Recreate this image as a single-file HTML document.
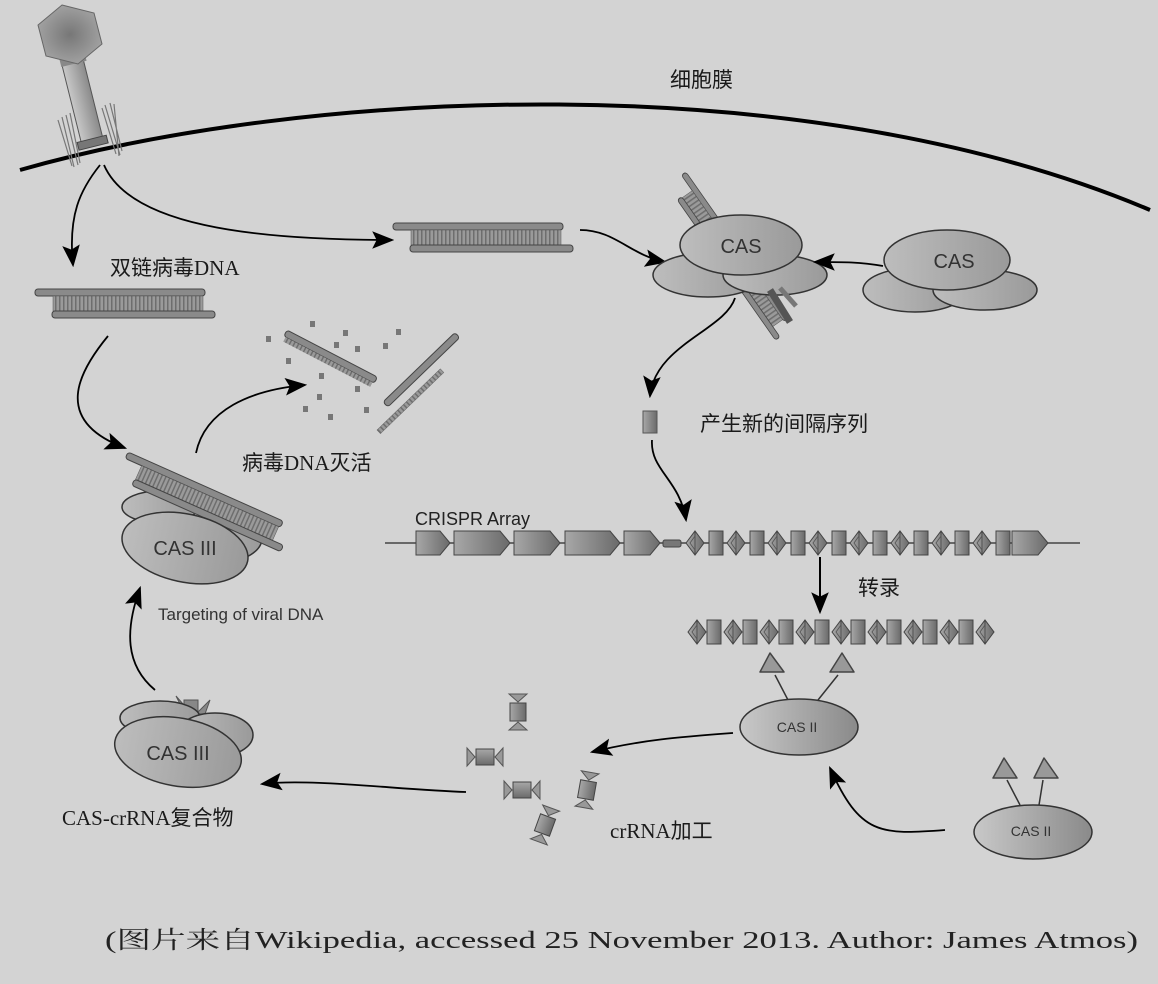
<!DOCTYPE html>
<html><head><meta charset="utf-8"><style>
html,body{margin:0;padding:0;background:#d3d3d3;}
svg{display:block;}
text{font-family:"Liberation Sans","Noto Sans CJK SC",sans-serif;fill:#222;}
.cn{font-family:"Liberation Serif","Noto Sans CJK SC",serif;font-size:21px;fill:#1a1a1a;}
.cas{font-size:20px;fill:#333;}
</style></head><body>
<svg width="1158" height="984" viewBox="0 0 1158 984" xmlns="http://www.w3.org/2000/svg">
<defs>
<linearGradient id="g1" x1="0" x2="1" y1="0" y2="0"><stop offset="0" stop-color="#c8c8c8"/><stop offset="1" stop-color="#8a8a8a"/></linearGradient>
<linearGradient id="g2" x1="0" x2="1" y1="0" y2="0"><stop offset="0" stop-color="#a8a8a8"/><stop offset="1" stop-color="#6a6a6a"/></linearGradient>
<linearGradient id="g3" x1="0" x2="1"><stop offset="0" stop-color="#bdbdbd"/><stop offset="1" stop-color="#9a9a9a"/></linearGradient>
<radialGradient id="rh"><stop offset="0" stop-color="#777"/><stop offset="1" stop-color="#a0a0a0"/></radialGradient>
<marker id="ab" viewBox="0 0 10 10" refX="9" refY="5" markerWidth="22" markerHeight="22" orient="auto" markerUnits="userSpaceOnUse"><path d="M0,1 L10,5 L0,9 L2,5 Z" fill="#000"/></marker>
<pattern id="rung" width="4" height="14" patternUnits="userSpaceOnUse"><rect width="4" height="14" fill="#9a9a9a"/><rect x="0" width="1.5" height="14" fill="#6e6e6e"/></pattern>
<g id="dna">
<rect x="0" y="0" width="170" height="7" rx="3" fill="#8a8a8a" stroke="#444" stroke-width="1"/>
<rect x="18" y="7" width="150" height="15" fill="url(#rung)" stroke="#555" stroke-width="0.5"/>
<rect x="17" y="22" width="163" height="7" rx="3" fill="#8a8a8a" stroke="#444" stroke-width="1"/>
</g>
<g id="rep"><polygon points="0,12 9,0 18,12 9,24" fill="url(#g2)" stroke="#444" stroke-width="1"/><line x1="9" y1="0" x2="9" y2="24" stroke="#444" stroke-width="1"/><polygon points="4,12 9,5 9,19" fill="none" stroke="#555" stroke-width="0.8"/></g>
<g id="sp"><rect x="0" y="0" width="14" height="24" fill="url(#g2)" stroke="#444" stroke-width="1"/></g>
<g id="piece"><polygon points="-9,-18 9,-18 0,-10" fill="#999" stroke="#555"/><rect x="-8" y="-9" width="16" height="18" fill="url(#g2)" stroke="#444"/><polygon points="-9,18 9,18 0,10" fill="#999" stroke="#555"/></g>
</defs>

<!-- membrane -->
<path d="M20,170 C 300,90 800,62 1150,210" fill="none" stroke="#000" stroke-width="4"/>
<text x="670" y="87" class="cn">细胞膜</text>

<!-- phage -->
<g>
<g stroke="#777" stroke-width="1.2" fill="none">
<path d="M62,117 l12,50 M66,115 l12,50 M70,113 l10,50 M58,120 l14,46"/>
<path d="M105,105 l15,50 M110,103 l12,48 M114,104 l5,52 M102,108 l14,46"/>
</g>
<g transform="rotate(-14 82 100)">
<rect x="71" y="60" width="22" height="84" fill="url(#g1)" stroke="#555"/>
<rect x="67" y="140" width="30" height="8" fill="#777" stroke="#444"/>
</g>
<rect x="60" y="56" width="26" height="8" fill="#888" transform="rotate(-14 73 60)"/>
<polygon points="62,5 94,13 102,44 78,64 46,56 38,25" fill="url(#rh)" stroke="#666"/>
</g>

<!-- arrows from entry -->
<path d="M100,165 C 80,190 68,215 73,265" fill="none" stroke="#000" stroke-width="1.8" marker-end="url(#ab)"/>
<path d="M104,165 C 130,225 250,240 392,240" fill="none" stroke="#000" stroke-width="1.8" marker-end="url(#ab)"/>

<!-- dsDNA -->
<use href="#dna" x="35" y="289"/>
<text x="110" y="275" class="cn">双链病毒DNA</text>
<use href="#dna" x="393" y="223"/>
<path d="M580,230 C 615,230 630,255 665,262" fill="none" stroke="#000" stroke-width="1.8" marker-end="url(#ab)"/>

<!-- CAS top with DNA -->
<use href="#dna" transform="translate(686,172) rotate(55) scale(1.05,0.8)"/>
<ellipse cx="708" cy="275" rx="55" ry="22" fill="url(#g3)" stroke="#333" stroke-width="1.5"/>
<ellipse cx="775" cy="275" rx="52" ry="20" fill="url(#g3)" stroke="#333" stroke-width="1.5"/>
<ellipse cx="741" cy="245" rx="61" ry="30" fill="url(#g3)" stroke="#333" stroke-width="1.5"/>
<text x="741" y="253" class="cas" text-anchor="middle">CAS</text>
<path d="M770,290 L790,322" stroke="#555" stroke-width="7"/>
<path d="M780,288 L796,306" stroke="#777" stroke-width="5"/>

<!-- CAS right -->
<ellipse cx="915" cy="290" rx="52" ry="22" fill="url(#g3)" stroke="#333" stroke-width="1.5"/>
<ellipse cx="985" cy="290" rx="52" ry="20" fill="url(#g3)" stroke="#333" stroke-width="1.5"/>
<ellipse cx="947" cy="260" rx="63" ry="30" fill="url(#g3)" stroke="#333" stroke-width="1.5"/>
<text x="954" y="268" class="cas" text-anchor="middle">CAS</text>
<path d="M883,266 C 860,262 845,262 815,262" fill="none" stroke="#000" stroke-width="1.8" marker-end="url(#ab)"/>

<!-- to spacer -->
<path d="M735,298 C 725,330 655,345 650,396" fill="none" stroke="#000" stroke-width="1.8" marker-end="url(#ab)"/>
<rect x="643" y="411" width="14" height="22" fill="url(#g2)" stroke="#555"/>
<text x="700" y="431" class="cn">产生新的间隔序列</text>
<path d="M652,440 C 650,470 680,480 686,520" fill="none" stroke="#000" stroke-width="1.8" marker-end="url(#ab)"/>

<!-- CRISPR array -->
<line x1="385" y1="543" x2="1080" y2="543" stroke="#444" stroke-width="1.5"/>
<text x="415" y="525" style="font-size:18px;fill:#222">CRISPR Array</text>
<g stroke="#444" stroke-width="1">
<polygon points="416,531 440,531 450,543 440,555 416,555" fill="url(#g2)"/>
<polygon points="454,531 500,531 510,543 500,555 454,555" fill="url(#g2)"/>
<polygon points="514,531 550,531 560,543 550,555 514,555" fill="url(#g2)"/>
<polygon points="565,531 610,531 620,543 610,555 565,555" fill="url(#g2)"/>
<polygon points="624,531 650,531 660,543 650,555 624,555" fill="url(#g2)"/>
<rect x="663" y="540" width="18" height="7" rx="2" fill="#777"/>
<polygon points="1012,531 1038,531 1048,543 1038,555 1012,555" fill="url(#g2)"/>
</g>
<g transform="translate(0,531)">
<use href="#rep" x="686"/><use href="#sp" x="709"/>
<use href="#rep" x="727"/><use href="#sp" x="750"/>
<use href="#rep" x="768"/><use href="#sp" x="791"/>
<use href="#rep" x="809"/><use href="#sp" x="832"/>
<use href="#rep" x="850"/><use href="#sp" x="873"/>
<use href="#rep" x="891"/><use href="#sp" x="914"/>
<use href="#rep" x="932"/><use href="#sp" x="955"/>
<use href="#rep" x="973"/><use href="#sp" x="996"/>
</g>
<line x1="820" y1="557" x2="820" y2="612" stroke="#000" stroke-width="2" marker-end="url(#ab)"/>
<text x="858" y="595" class="cn">转录</text>

<!-- transcript -->
<g transform="translate(0,620)">
<use href="#rep" x="688"/><use href="#sp" x="707"/>
<use href="#rep" x="724"/><use href="#sp" x="743"/>
<use href="#rep" x="760"/><use href="#sp" x="779"/>
<use href="#rep" x="796"/><use href="#sp" x="815"/>
<use href="#rep" x="832"/><use href="#sp" x="851"/>
<use href="#rep" x="868"/><use href="#sp" x="887"/>
<use href="#rep" x="904"/><use href="#sp" x="923"/>
<use href="#rep" x="940"/><use href="#sp" x="959"/>
<use href="#rep" x="976"/>
</g>

<!-- CAS II top -->
<line x1="788" y1="700" x2="775" y2="675" stroke="#333" stroke-width="1.5"/>
<line x1="818" y1="700" x2="838" y2="675" stroke="#333" stroke-width="1.5"/>
<polygon points="770,653 760,672 784,672" fill="#999" stroke="#444" stroke-linejoin="round" stroke-width="1.5"/>
<polygon points="842,653 830,672 854,672" fill="#999" stroke="#444" stroke-linejoin="round" stroke-width="1.5"/>
<ellipse cx="799" cy="727" rx="59" ry="28" fill="url(#g1)" stroke="#333" stroke-width="1.5"/>
<text x="797" y="732" class="cas" text-anchor="middle" style="font-size:14px">CAS II</text>

<!-- CAS II right -->
<line x1="1020" y1="805" x2="1007" y2="780" stroke="#333" stroke-width="1.5"/>
<line x1="1039" y1="805" x2="1043" y2="780" stroke="#333" stroke-width="1.5"/>
<polygon points="1004,758 993,778 1017,778" fill="#999" stroke="#444" stroke-linejoin="round" stroke-width="1.5"/>
<polygon points="1044,758 1034,778 1058,778" fill="#999" stroke="#444" stroke-linejoin="round" stroke-width="1.5"/>
<ellipse cx="1033" cy="832" rx="59" ry="27" fill="url(#g1)" stroke="#333" stroke-width="1.5"/>
<text x="1031" y="836" class="cas" text-anchor="middle" style="font-size:14px">CAS II</text>
<path d="M945,830 C 880,835 860,835 830,768" fill="none" stroke="#000" stroke-width="1.8" marker-end="url(#ab)"/>
<path d="M733,733 C 680,737 640,740 592,752" fill="none" stroke="#000" stroke-width="1.8" marker-end="url(#ab)"/>

<!-- crRNA pieces -->
<use href="#piece" transform="translate(518,712)"/>
<use href="#piece" transform="translate(485,757) rotate(90)"/>
<use href="#piece" transform="translate(522,790) rotate(90)"/>
<use href="#piece" transform="translate(587,790) rotate(10)"/>
<use href="#piece" transform="translate(545,825) rotate(20)"/>
<text x="610" y="838" class="cn">crRNA加工</text>
<path d="M466,792 C 400,790 310,778 262,784" fill="none" stroke="#000" stroke-width="1.8" marker-end="url(#ab)"/>

<!-- CAS III bottom -->
<polygon points="176,696 190,712 184,712" fill="#888" stroke="#555"/>
<polygon points="210,700 196,714 205,714" fill="#888" stroke="#555"/>
<rect x="184" y="700" width="14" height="14" fill="#888" stroke="#555"/>
<ellipse cx="160" cy="718" rx="40" ry="17" fill="url(#g3)" stroke="#333" stroke-width="1.5"/>
<ellipse cx="215" cy="735" rx="38" ry="22" fill="url(#g3)" stroke="#333" stroke-width="1.5"/>
<ellipse cx="178" cy="752" rx="64" ry="34" fill="url(#g3)" stroke="#333" stroke-width="1.5" transform="rotate(10 178 752)"/>
<text x="178" y="760" class="cas" text-anchor="middle">CAS III</text>
<text x="62" y="825" class="cn">CAS-crRNA复合物</text>
<path d="M155,690 C 125,665 125,630 140,588" fill="none" stroke="#000" stroke-width="1.8" marker-end="url(#ab)"/>
<text x="158" y="620" style="font-size:17px;fill:#333">Targeting of viral DNA</text>

<!-- CAS III upper -->
<ellipse cx="160" cy="507" rx="38" ry="16" fill="url(#g3)" stroke="#333" stroke-width="1.5"/>
<ellipse cx="222" cy="538" rx="40" ry="24" fill="url(#g3)" stroke="#333" stroke-width="1.5"/>
<use href="#dna" transform="translate(128,452) rotate(24)"/>
<ellipse cx="185" cy="548" rx="64" ry="34" fill="url(#g3)" stroke="#333" stroke-width="1.5" transform="rotate(12 185 548)"/>
<text x="185" y="555" class="cas" text-anchor="middle">CAS III</text>
<path d="M108,336 C 80,370 50,420 125,448" fill="none" stroke="#000" stroke-width="1.8" marker-end="url(#ab)"/>
<path d="M196,453 C 205,410 250,390 305,385" fill="none" stroke="#000" stroke-width="1.8" marker-end="url(#ab)"/>
<text x="242" y="470" class="cn">病毒DNA灭活</text>

<!-- fragments -->
<g>
<g transform="translate(287,330) rotate(27.5)">
<rect x="0" y="0" width="102" height="7" rx="3" fill="#8a8a8a" stroke="#444"/>
<rect x="2" y="7" width="98" height="5" fill="url(#rung)"/>
</g>
<rect x="0" y="0" width="100" height="7" rx="3" fill="#8a8a8a" stroke="#444" transform="translate(383,402) rotate(-44)"/>
<rect x="0" y="0" width="88" height="5" fill="url(#rung)" stroke="#666" stroke-width="0.5" transform="translate(377,430) rotate(-44)"/>
<g fill="#777">
<rect x="266" y="336" width="5" height="6"/><rect x="310" y="321" width="5" height="6"/>
<rect x="343" y="330" width="5" height="6"/><rect x="334" y="342" width="5" height="6"/>
<rect x="355" y="346" width="5" height="6"/><rect x="383" y="343" width="5" height="6"/>
<rect x="396" y="329" width="5" height="6"/><rect x="286" y="358" width="5" height="6"/>
<rect x="319" y="373" width="5" height="6"/><rect x="317" y="394" width="5" height="6"/>
<rect x="303" y="406" width="5" height="6"/><rect x="328" y="414" width="5" height="6"/>
<rect x="355" y="386" width="5" height="6"/><rect x="364" y="407" width="5" height="6"/>
</g>
</g>

<!-- caption -->
<text x="105" y="948" textLength="1033" lengthAdjust="spacingAndGlyphs" style="font-family:'Liberation Serif','Noto Serif CJK SC',serif;font-size:24px;fill:#222">(图片来自Wikipedia, accessed 25 November 2013. Author: James Atmos)</text>
</svg>
</body></html>
